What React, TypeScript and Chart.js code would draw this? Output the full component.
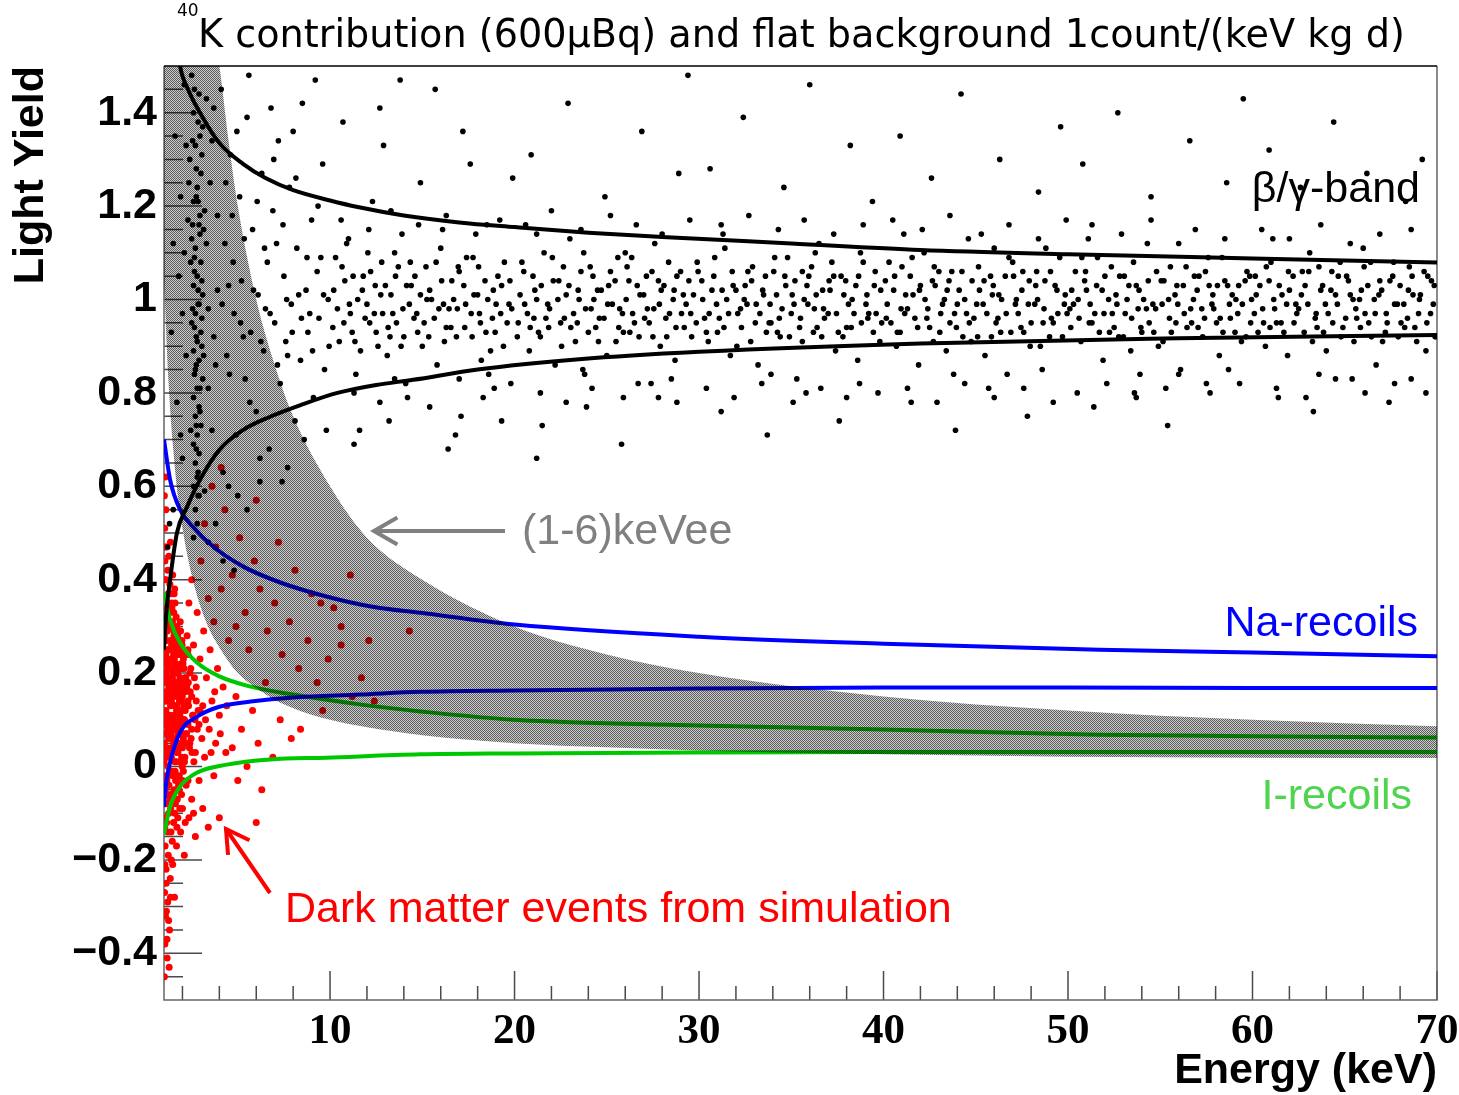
import { useEffect, useRef } from "react";
import { Chart, registerables } from "chart.js";

Chart.register(...registerables);

// ---------------- axis definitions ----------------
const X_RANGE = [1, 70];
const Y_RANGE = [-0.5, 1.5];
const X_TICKS = [10, 20, 30, 40, 50, 60, 70];
const X_MINOR = [2, 4, 6, 8, 12, 14, 16, 18, 22, 24, 26, 28, 32, 34, 36, 38, 42, 44, 46, 48, 52, 54, 56, 58, 62, 64, 66, 68];
const Y_TICKS = [-0.4, -0.2, 0, 0.2, 0.4, 0.6, 0.8, 1.0, 1.2, 1.4];
const Y_TICK_LABELS = ["\u22120.4", "\u22120.2", "0", "0.2", "0.4", "0.6", "0.8", "1", "1.2", "1.4"];
const Y_MINOR = [-0.45, -0.35, -0.3, -0.25, -0.15, -0.1, -0.05, 0.05, 0.1, 0.15, 0.25, 0.3, 0.35, 0.45, 0.5, 0.55, 0.65, 0.7, 0.75, 0.85, 0.9, 0.95, 1.05, 1.1, 1.15, 1.25, 1.3, 1.35, 1.45];

// ---------------- (1-6) keVee band ----------------
const BAND_E = [1, 1.25, 1.5, 1.75, 2, 2.5, 3, 3.5, 4, 4.5, 5, 6, 7, 8, 10, 12, 15, 20, 25, 30, 40, 50, 60, 70];
const BAND_UPPER = [1.6, 1.6, 1.6, 1.6, 1.6, 1.6, 1.6, 1.6, 1.5, 1.34, 1.2, 1.0, 0.86, 0.75, 0.6, 0.49, 0.4, 0.3, 0.24, 0.2, 0.15, 0.12, 0.1, 0.086];
const BAND_LOWER = [1.04, 0.82, 0.68, 0.58, 0.51, 0.41, 0.34, 0.29, 0.255, 0.225, 0.2, 0.168, 0.143, 0.125, 0.1, 0.084, 0.067, 0.05, 0.041, 0.034, 0.026, 0.021, 0.019, 0.018];

// ---------------- beta/gamma band curves ----------------
const BG_UP_E = [1.5, 1.87, 2.3, 2.95, 4.0, 5.3, 6.5, 8.0, 10.0, 11.5, 14.0, 17, 20, 24, 28, 35, 42, 50, 60, 70];
const BG_UP_LY = [1.62, 1.5, 1.45, 1.4, 1.335, 1.29, 1.26, 1.234, 1.212, 1.198, 1.18, 1.165, 1.155, 1.143, 1.134, 1.12, 1.106, 1.097, 1.088, 1.079];
const BG_LO_E = [1.0, 1.05, 1.15, 1.33, 1.7, 2.25, 2.95, 4.0, 5.3, 6.75, 8.4, 10.4, 12.5, 14.5, 18, 23.5, 30, 42, 56, 70];
const BG_LO_LY = [0.25, 0.29, 0.34, 0.4, 0.5, 0.556, 0.614, 0.678, 0.721, 0.749, 0.774, 0.8, 0.817, 0.828, 0.85, 0.872, 0.888, 0.906, 0.917, 0.924];

// ---------------- Na recoils ----------------
const NA_UP_E = [1.0, 1.33, 1.87, 2.57, 3.66, 5.3, 7.3, 9.8, 12.3, 14.9, 20, 30, 40, 51.7, 60, 70];
const NA_UP_LY = [0.7, 0.614, 0.55, 0.513, 0.471, 0.428, 0.394, 0.364, 0.342, 0.329, 0.304, 0.278, 0.263, 0.25, 0.244, 0.236];
const NA_LO_E = [1.0, 1.1, 1.33, 1.87, 2.8, 4.0, 5.7, 8.0, 11.6, 14.9, 20, 30, 40, 50, 60, 70];
const NA_LO_LY = [-0.086, -0.04, 0.009, 0.073, 0.107, 0.128, 0.139, 0.148, 0.154, 0.16, 0.163, 0.167, 0.169, 0.169, 0.168, 0.168];

// ---------------- I recoils ----------------
const I_UP_E = [1.0, 1.33, 1.87, 2.8, 4.0, 5.7, 8.0, 11.6, 14.9, 20, 30, 40, 51.7, 60, 70];
const I_UP_LY = [0.372, 0.314, 0.265, 0.222, 0.193, 0.171, 0.154, 0.133, 0.118, 0.1, 0.088, 0.079, 0.068, 0.065, 0.062];
const I_LO_E = [1.0, 1.33, 1.87, 2.8, 4.4, 6.75, 9.8, 14.9, 20, 30, 40, 50, 60, 70];
const I_LO_LY = [-0.145, -0.086, -0.043, -0.013, 0.004, 0.015, 0.019, 0.026, 0.028, 0.03, 0.031, 0.031, 0.031, 0.031];

// ---------------- measured events (black) ----------------
const K40_EVENTS: [number, number][] = [
  [10.2,1.02],[10.5,0.91],[10.9,1.12],[11.1,0.97],[11.4,0.84],[11.8,1.05],[12.0,0.99],[12.3,1.21],[12.5,0.93],[12.8,1.08],[13.1,0.88],[13.3,1.01],[13.6,0.95],[13.9,1.14],[14.2,0.79],[14.4,1.03],[14.7,0.97],[15.0,0.90],[15.2,1.07],[15.5,1.00],[15.8,0.86],[16.0,1.11],[16.3,0.94],[16.6,1.04],[16.9,0.98],[17.1,0.75],[17.4,1.09],[17.7,0.92],[18.0,1.01],[18.2,0.87],[18.5,1.16],[18.8,0.96],[19.1,1.05],[19.4,0.90],[19.7,0.99],[19.9,1.26],
  [10.7,1.38],[12.9,1.33],[15.7,1.45],[17.6,1.29],[11.6,0.72],[16.4,0.68],[18.9,0.81],[13.8,1.47],[14.9,1.25],[19.3,0.74],
  [20.2,0.95],[20.5,1.06],[20.8,0.89],[21.1,1.02],[21.3,0.93],[21.6,1.10],[21.9,0.98],[22.2,0.86],[22.4,1.04],[22.7,0.96],[23.0,1.13],[23.3,0.91],[23.5,1.00],[23.8,0.84],[24.1,1.07],[24.4,0.94],[24.7,1.02],[25.0,0.88],[25.3,0.99],[25.6,1.09],[25.9,0.93],[26.2,1.04],[26.4,0.97],[26.7,0.82],[27.0,1.01],[27.3,0.95],[27.6,1.12],[27.9,0.90],[28.1,1.03],[28.4,0.97],[28.7,0.87],[29.0,1.06],[29.3,0.99],[29.6,0.92],[29.9,1.08],
  [20.9,1.31],[22.9,1.42],[24.9,1.22],[26.9,1.36],[28.9,1.27],[21.5,0.73],[23.9,0.77],[25.8,0.69],[27.8,0.79],[29.4,1.48],
  [30.2,1.00],[30.5,0.91],[30.8,1.05],[31.1,0.96],[31.4,1.11],[31.7,0.88],[32.0,1.02],[32.3,0.94],[32.6,0.99],[32.9,1.07],[33.2,0.86],[33.5,1.01],[33.8,0.95],[34.1,1.09],[34.4,0.92],[34.7,1.03],[35.0,0.97],[35.3,0.83],[35.6,1.06],[35.9,0.99],[36.2,0.93],[36.5,1.12],[36.8,0.96],[37.1,1.02],[37.4,0.89],[37.7,1.05],[38.0,0.94],[38.3,1.00],[38.6,0.87],[38.9,1.08],[39.2,0.97],[39.5,1.03],[39.8,0.91],
  [30.6,1.28],[32.4,1.39],[34.6,1.24],[36.0,1.46],[38.2,1.33],[31.2,0.76],[33.7,0.71],[35.8,0.80],[37.6,0.74],[39.4,1.21],
  [40.1,1.04],[40.4,0.95],[40.7,0.90],[41.0,1.07],[41.3,0.98],[41.6,1.01],[41.9,0.86],[42.2,1.10],[42.5,0.94],[42.8,1.03],[43.1,0.97],[43.4,0.89],[43.7,1.06],[44.0,0.99],[44.3,0.92],[44.6,1.13],[44.9,0.96],[45.2,1.02],[45.5,0.88],[45.8,1.05],[46.1,0.95],[46.4,1.00],[46.7,0.84],[47.0,1.08],[47.3,0.97],[47.6,0.93],[47.9,1.04],[48.2,0.99],[48.5,0.90],[48.8,1.11],[49.1,0.96],[49.4,1.02],[49.7,0.92],
  [40.9,1.35],[42.6,1.26],[44.2,1.44],[46.3,1.30],[48.4,1.23],[41.5,0.78],[43.9,0.72],[45.7,0.81],[47.8,0.75],[49.6,1.37],
  [50.1,0.98],[50.4,1.06],[50.7,0.91],[51.0,1.02],[51.3,0.95],[51.6,1.09],[51.9,0.87],[52.2,1.00],[52.5,0.94],[52.8,1.05],[53.1,0.97],[53.4,0.89],[53.7,1.03],[54.0,0.93],[54.3,1.12],[54.6,0.99],[54.9,0.90],[55.2,1.04],[55.5,0.96],[55.8,1.01],[56.1,0.85],[56.4,1.07],[56.7,0.95],[57.0,1.02],[57.3,0.92],[57.6,1.09],[57.9,0.98],[58.2,0.88],[58.5,1.04],[58.8,0.96],[59.1,1.00],[59.4,0.91],[59.7,1.06],
  [50.8,1.29],[52.7,1.40],[54.5,1.22],[56.6,1.34],[58.6,1.25],[51.4,0.77],[53.6,0.80],[55.4,0.73],[57.5,0.82],[59.5,1.43],
  [60.1,0.97],[60.4,1.03],[60.7,0.90],[61.0,1.08],[61.3,0.95],[61.6,1.01],[61.9,0.88],[62.2,1.05],[62.5,0.98],[62.8,0.93],[63.1,1.10],[63.4,0.96],[63.7,1.02],[64.0,0.89],[64.3,1.06],[64.6,0.99],[64.9,0.94],[65.2,1.04],[65.5,0.91],[65.8,1.00],[66.1,0.97],[66.4,1.08],[66.7,0.86],[67.0,1.02],[67.3,0.95],[67.6,1.05],[67.9,0.92],[68.2,0.99],[68.5,1.07],[68.8,0.94],[69.1,1.01],[69.4,0.89],[69.7,1.04],
  [60.9,1.32],[62.6,1.24],[64.4,1.38],[66.2,1.27],[68.3,1.21],[61.4,0.79],[63.3,0.76],[65.4,0.83],[67.4,0.78],[69.2,1.30],
  [10.4,0.98],[10.8,1.04],[11.2,0.93],[11.5,1.00],[11.9,0.96],[12.2,1.06],[12.6,0.90],[13.0,1.03],[13.4,0.97],[13.7,1.07],[14.0,0.92],[14.3,0.99],[14.6,1.05],[15.1,0.95],[15.4,1.02],[15.9,0.98],[16.2,0.91],[16.7,1.00],[17.0,1.06],[17.3,0.94],[17.8,1.01],[18.1,0.97],[18.4,1.04],[18.7,0.89],[19.0,0.99],[19.3,1.03],[19.6,0.95],
  [20.3,1.01],[20.7,0.97],[21.0,1.05],[21.4,0.92],[21.8,0.99],[22.1,1.04],[22.5,0.95],[22.8,1.01],[23.2,0.97],[23.6,1.06],[24.0,0.93],[24.3,1.00],[24.6,0.96],[25.1,1.03],[25.5,0.91],[25.7,0.98],[26.1,1.07],[26.5,0.95],[26.8,1.01],[27.2,0.98],[27.5,0.92],[27.8,1.04],[28.2,0.96],[28.6,1.00],[28.8,1.05],[29.2,0.94],[29.7,1.01],
  [30.3,0.96],[30.7,1.02],[31.0,0.93],[31.5,1.00],[31.8,1.06],[32.1,0.97],[32.5,1.03],[32.8,0.91],[33.1,0.99],[33.6,1.05],[33.9,0.95],[34.2,1.01],[34.5,0.98],[34.9,0.92],[35.2,1.04],[35.5,0.96],[35.7,1.00],[36.1,1.07],[36.4,0.94],[36.7,1.02],[37.0,0.97],[37.3,1.05],[37.8,0.92],[38.1,0.99],[38.5,1.03],[38.8,0.95],[39.1,1.01],[39.6,0.97],
  [40.2,0.99],[40.6,1.05],[40.9,0.93],[41.2,1.01],[41.7,0.96],[42.0,1.03],[42.4,0.98],[42.7,0.91],[43.0,1.06],[43.3,1.00],[43.6,0.95],[44.1,1.02],[44.5,0.97],[44.8,1.04],[45.1,0.92],[45.4,0.99],[45.9,1.01],[46.2,0.96],[46.6,1.05],[46.9,0.93],[47.2,1.00],[47.5,1.02],[48.0,0.95],[48.3,1.06],[48.7,0.98],[49.0,0.92],[49.3,1.03],[49.8,0.99],
  [50.2,1.02],[50.6,0.96],[50.9,1.04],[51.2,0.99],[51.7,0.93],[52.0,1.05],[52.4,0.97],[52.6,1.01],[53.0,0.92],[53.3,1.03],[53.8,0.98],[54.1,1.00],[54.4,0.95],[54.8,1.06],[55.1,0.99],[55.6,0.93],[55.9,1.03],[56.3,0.97],[56.8,1.00],[57.1,1.05],[57.4,0.96],[57.8,0.99],[58.1,1.03],[58.4,0.93],[58.9,1.01],[59.2,0.97],[59.6,1.04],[59.9,0.95],
  [60.2,1.01],[60.6,0.95],[60.9,1.04],[61.2,0.98],[61.7,0.93],[62.0,1.02],[62.4,0.97],[62.7,1.06],[63.0,0.99],[63.5,0.94],[63.8,1.03],[64.1,0.97],[64.5,1.01],[64.8,0.92],[65.1,1.05],[65.6,0.98],[65.9,1.02],[66.3,0.95],[66.6,1.00],[66.9,1.04],[67.2,0.93],[67.7,0.99],[68.0,1.03],[68.4,0.96],[68.7,1.01],[69.0,0.97],[69.5,1.05],[69.8,0.99],
  [10.15,0.94],[10.65,1.07],[11.05,0.99],[11.35,0.91],[11.75,1.02],[12.15,0.95],[12.45,1.03],[12.85,0.97],[13.25,0.92],[13.55,1.05],[13.95,0.98],[14.35,1.08],[14.75,0.93],[15.25,1.00],[15.65,0.96],[16.05,1.04],[16.45,0.98],[16.85,0.92],[17.25,1.03],[17.65,0.97],[18.05,1.07],[18.45,0.93],[18.85,1.02],[19.25,0.97],[19.75,1.04],
  [20.15,0.92],[20.55,0.99],[21.05,0.96],[21.45,1.03],[21.85,0.94],[22.35,1.00],[22.65,1.07],[23.05,0.94],[23.45,1.02],[23.85,0.98],[24.25,1.05],[24.55,0.91],[25.05,0.99],[25.45,1.04],[25.85,0.97],[26.25,0.93],[26.65,1.03],[27.05,0.96],[27.45,1.06],[27.85,0.99],[28.25,0.92],[28.65,1.02],[29.05,0.97],[29.45,1.04],[29.85,0.95],
  [30.15,1.04],[30.55,0.97],[30.95,0.99],[31.35,0.94],[31.85,1.03],[32.25,0.98],[32.65,1.06],[33.05,0.95],[33.45,1.02],[33.85,0.99],[34.25,0.93],[34.65,1.05],[35.05,1.01],[35.45,0.94],[35.85,1.03],[36.25,0.98],[36.65,0.92],[37.05,1.04],[37.45,0.97],[37.85,1.01],[38.25,0.94],[38.65,1.05],[39.05,0.99],[39.45,0.93],[39.85,1.02],
  [40.15,0.96],[40.55,1.02],[40.95,0.98],[41.45,1.05],[41.85,0.94],[42.25,1.00],[42.65,1.04],[43.05,0.93],[43.45,1.02],[43.85,0.97],[44.25,1.06],[44.65,0.95],[45.05,0.99],[45.45,1.04],[45.85,0.92],[46.25,1.01],[46.65,0.97],[47.05,1.05],[47.45,0.94],[47.85,0.99],[48.25,1.03],[48.65,0.95],[49.05,1.06],[49.45,0.97],[49.85,1.01],
  [50.15,0.94],[50.55,1.00],[50.95,1.06],[51.45,0.97],[51.85,1.02],[52.25,0.93],[52.65,0.99],[53.05,1.05],[53.45,0.96],[53.85,1.02],[54.25,0.98],[54.65,0.93],[55.05,1.04],[55.45,1.00],[55.85,0.95],[56.25,1.03],[56.65,0.98],[57.05,0.94],[57.45,1.06],[57.85,1.01],[58.25,0.96],[58.65,1.03],[59.05,0.93],[59.45,0.99],[59.85,1.05],
  [60.15,1.05],[60.55,0.98],[60.95,0.94],[61.45,1.03],[61.85,0.99],[62.25,0.95],[62.65,1.01],[63.05,1.06],[63.45,0.97],[63.85,0.93],[64.25,1.02],[64.65,1.05],[65.05,0.96],[65.45,1.00],[65.85,0.94],[66.25,1.03],[66.65,0.97],[67.05,0.91],[67.45,1.04],[67.85,0.99],[68.25,0.94],[68.65,1.05],[69.05,1.00],[69.45,0.95],[69.85,1.03],
  [10.3,1.09],[10.75,0.95],[11.25,1.05],[11.65,0.89],[12.05,1.1],[12.4,0.97],[12.75,1.01],[13.15,0.94],[13.5,1.1],[13.85,0.9],[14.15,1.03],[14.55,0.96],[14.9,1.01],[15.35,0.92],[15.75,1.08],[16.15,0.99],[16.55,0.94],[16.95,1.07],[17.35,0.99],[17.75,1.09],[18.15,0.95],[18.55,1.0],[18.95,0.93],[19.45,1.08],[19.85,0.98],
  [20.4,1.08],[20.85,0.94],[21.2,1.0],[21.7,0.96],[22.05,1.09],[22.55,0.9],[22.95,1.03],[23.4,0.95],[23.75,1.1],[24.15,0.98],[24.5,1.02],[24.85,0.96],[25.2,1.06],[25.65,0.94],[26.05,1.0],[26.35,1.09],[26.75,0.92],[27.15,1.05],[27.55,0.98],[27.95,1.02],[28.35,1.08],[28.75,0.94],[29.15,1.01],[29.55,0.97],[29.95,1.06],
  [30.4,0.93],[30.85,1.09],[31.25,1.02],[31.6,0.97],[32.05,0.9],[32.45,1.0],[32.85,1.04],[33.3,0.97],[33.65,0.93],[34.05,1.06],[34.35,0.96],[34.8,1.09],[35.15,0.99],[35.6,0.91],[35.95,1.05],[36.35,1.01],[36.75,0.98],[37.2,1.08],[37.55,0.93],[37.95,1.04],[38.4,0.97],[38.75,1.1],[39.15,0.96],[39.55,1.06],[39.9,0.95],
  [40.3,1.08],[40.75,0.93],[41.15,0.97],[41.55,1.09],[41.95,1.02],[42.35,0.96],[42.75,1.07],[43.2,0.99],[43.55,1.04],[43.95,0.94],[44.4,1.0],[44.75,0.91],[45.15,1.07],[45.6,0.97],[45.95,1.03],[46.35,0.93],[46.8,1.09],[47.15,0.99],[47.55,1.06],[47.95,0.9],[48.35,1.0],[48.75,1.04],[49.2,0.95],[49.55,1.09],[49.95,0.97],
  [50.3,0.99],[50.75,1.09],[51.15,0.95],[51.55,1.03],[51.95,0.97],[52.35,1.07],[52.75,0.92],[53.2,1.0],[53.55,1.08],[53.95,0.94],[54.35,1.04],[54.75,0.98],[55.15,0.91],[55.55,1.07],[55.95,0.99],[56.45,0.94],[56.85,1.05],[57.25,0.98],[57.65,1.03],[58.05,0.95],[58.35,1.09],[58.75,0.99],[59.25,1.03],[59.65,0.92],[59.95,1.0],
  [60.3,0.93],[60.75,1.07],[61.15,1.0],[61.55,0.95],[61.95,1.06],[62.35,0.99],[62.85,1.03],[63.25,0.91],[63.6,1.07],[63.95,0.99],[64.35,0.95],[64.75,1.08],[65.3,1.01],[65.65,0.96],[66.05,1.07],[66.45,0.92],[66.85,1.01],[67.25,0.97],[67.65,1.08],[68.05,0.95],[68.45,1.02],[68.9,0.91],[69.3,1.06],[69.65,0.97],[69.9,0.92],
  [11.0,1.13],[13.5,0.83],[16.1,1.15],[18.6,0.84],[21.2,1.14],[23.7,0.85],[26.0,1.10],[28.5,0.83],[31.3,1.14],[33.9,0.84],[36.3,1.10],[38.7,0.82],[41.1,1.14],[43.8,0.84],[46.0,1.11],[48.6,0.85],[51.1,1.13],[53.9,0.84],[56.0,1.12],[58.7,0.85],[61.1,1.13],[63.6,0.84],[66.0,1.11],[68.6,0.83],
  [10.6,1.17],[11.3,0.8],[12.1,1.15],[12.7,0.78],[13.3,1.19],[14.1,0.82],[14.8,1.16],[15.4,0.77],[16.3,1.18],[17.0,0.83],[17.9,1.14],[18.3,0.79],[19.2,1.17],[19.8,0.82],
  [20.6,1.16],[21.4,0.8],[22.0,1.19],[22.8,0.78],[23.6,1.15],[24.2,0.81],[25.2,1.18],[25.9,0.79],[26.6,1.16],[27.4,0.82],[28.0,1.14],[28.8,0.78],[29.5,1.17],
  [30.4,0.81],[31.2,1.16],[31.9,0.79],[32.7,1.18],[33.4,0.82],[34.3,1.15],[35.1,0.78],[35.7,1.17],[36.6,0.81],[37.3,1.14],[38.0,0.79],[38.9,1.16],[39.7,0.8],
  [40.5,1.17],[41.3,0.81],[42.1,1.15],[42.9,0.78],[43.6,1.18],[44.4,0.82],[45.3,1.14],[46.0,0.79],[46.8,1.16],[47.6,0.81],[48.4,1.13],[49.2,0.78],[49.9,1.17],
  [50.5,0.8],[51.3,1.16],[52.1,0.82],[52.9,1.14],[53.7,0.79],[54.5,1.17],[55.3,0.81],[56.0,0.84],[56.9,1.15],[57.7,0.8],[58.5,1.13],[59.3,0.82],
  [60.5,1.15],[61.3,0.81],[62.0,1.13],[62.9,0.79],[63.7,1.16],[64.5,0.83],[65.3,1.12],[66.1,0.8],[66.9,1.14],[67.7,0.82],[68.6,1.15],[69.4,0.8],
  [4.1,1.45],[4.3,1.12],[4.4,0.88],[4.6,1.31],[4.8,0.97],[4.9,0.71],[5.1,1.22],[5.2,1.04],[5.4,0.83],[5.5,1.39],[5.7,0.93],[5.8,1.15],[6.0,0.76],[6.1,1.01],[6.3,1.27],[6.4,0.89],[6.6,1.08],[6.7,0.68],[6.9,1.19],[7.0,0.95],[7.2,1.34],[7.3,0.82],[7.5,1.05],[7.6,0.91],[7.8,1.24],[7.9,0.99],[8.1,0.74],[8.2,1.11],[8.4,0.87],[8.5,1.42],[8.7,1.02],[8.8,0.93],[9.0,1.17],[9.1,0.79],[9.3,1.06],[9.4,0.96],[9.6,1.29],[9.7,0.85],[9.9,1.00],
  [4.2,0.63],[4.7,1.18],[5.0,0.58],[5.6,1.48],[6.2,0.66],[6.8,1.41],[7.4,0.61],[8.0,1.36],[8.6,0.70],[9.2,1.47],[9.8,0.72],[4.5,1.03],[5.3,0.92],[6.5,0.98],[7.1,1.12],[7.7,0.88],[8.3,1.01],[8.9,0.97],[9.5,1.09],
  [4.15,0.99],[4.35,1.25],[4.55,0.84],[4.75,1.08],[4.95,1.36],[5.15,0.95],[5.35,1.13],[5.65,0.78],[5.85,1.02],[6.05,1.21],[6.25,0.91],[6.45,1.11],[6.75,0.97],[6.95,1.3],[7.15,0.86],[7.45,1.16],[7.65,1.0],[7.95,0.93],[8.15,1.26],[8.45,0.96],[8.75,1.09],[9.05,0.89],[9.35,1.2],[9.65,1.01],[9.95,0.9],
  [2.5,1.48],[2.9,1.44],[2.6,1.40],[3.1,1.37],[2.7,1.33],[2.4,1.30],[3.0,1.27],[2.8,1.24],[2.6,1.21],[3.2,1.19],[2.9,1.16],[2.5,1.13],[2.7,1.11],[3.0,1.08],[2.8,1.05],[2.6,1.03],[3.1,1.01],[2.9,0.99],[2.7,0.97],[2.5,0.95],[3.0,0.93],[2.8,0.91],[2.6,0.89],[2.9,0.87],[2.7,0.85],[3.1,0.83],[2.8,0.81],[2.6,0.79],[2.9,0.77],[2.7,0.75],[3.0,0.73],[2.8,0.71],[2.6,0.69],[2.9,0.67],[2.7,0.65],[2.8,0.62],[2.6,0.60],[2.9,0.58],[2.7,0.55],[2.8,0.52],[2.6,0.49],
  [2.65,1.45],[2.85,1.38],[2.55,1.34],[3.05,1.31],[2.75,1.22],[2.95,1.14],[2.65,1.06],[2.85,1.02],[2.55,0.98],[3.05,0.96],[2.75,0.92],[2.65,0.84],[2.95,0.76],[2.75,0.68],[2.85,0.58],[2.45,1.08],[3.15,0.88],[2.45,0.72],[3.15,1.15],[2.35,1.25],
  [1.6,1.35],[1.9,1.22],[2.1,1.46],[3.5,1.25],[3.7,1.41],[3.4,0.98],[2.2,0.88],[1.8,1.05],[3.6,0.72],[2.0,0.66],[3.3,1.12],[3.8,0.86],[1.4,0.93],[2.3,1.17],[3.9,1.02],[1.7,0.78],[3.2,0.59],[2.2,1.33],[1.5,1.12],[3.6,1.34],[2.0,0.97],[3.4,0.81],[1.3,0.52],[1.2,0.47],[1.5,0.55],[3.3,1.43],[3.9,1.18],[1.9,0.71],[3.7,0.92],[2.1,1.10],
  [2.75,1.28],[2.95,1.18],[2.65,1.09],[2.85,0.99],[3.05,0.90],[2.75,0.86],[2.55,1.16],[2.95,1.35],[2.85,1.21],[2.65,0.94],[3.05,1.04],[2.75,0.73],[2.85,0.63],[2.95,0.81],
  [3.4,0.48],[4.2,0.44],[4.8,0.42],[3.8,0.52],[5.5,0.55],[4.5,0.60],[6.2,0.61],[7.7,0.64],[11.3,0.69],[13.2,0.74],[16.8,0.71],[21.2,0.66],[12.7,1.41],[17.2,1.36]
];

// ---------------- simulated dark matter events (red) ----------------
const DM_EVENTS: [number, number][] = [
  [1.02,0.05],[1.05,0.18],[1.08,0.27],[1.03,-0.03],[1.10,0.12],[1.12,0.22],[1.06,0.31],[1.15,0.02],[1.18,0.15],[1.14,0.29],[1.21,0.08],[1.24,0.19],[1.20,-0.04],[1.27,0.25],[1.30,0.11],[1.26,0.03],[1.33,0.17],[1.36,0.30],[1.32,-0.01],[1.39,0.07],[1.42,0.21],[1.38,0.14],[1.45,0.26],[1.48,0.04],[1.44,0.10],[1.51,0.18],[1.54,0.28],[1.50,-0.02],[1.57,0.13],[1.60,0.06],[1.56,0.23],[1.63,0.16],[1.66,0.01],[1.62,0.27],[1.69,0.09],[1.72,0.20],[1.68,0.12],[1.75,0.03],[1.78,0.17],[1.74,0.24],[1.81,0.08],[1.84,0.14],[1.80,0.29],[1.87,0.05],[1.90,0.19],[1.86,0.11],[1.93,0.22],[1.96,0.02],[1.92,0.15],[1.99,0.09],[2.02,0.18],[1.98,0.26],[2.05,0.06],[2.08,0.13],[2.04,0.21],[2.11,0.01],[2.14,0.16],[2.10,0.10],[2.17,0.24],[2.20,0.07],
  [1.04,0.09],[1.07,0.14],[1.09,0.03],[1.11,0.20],[1.13,0.07],[1.16,0.25],[1.19,0.10],[1.22,0.14],[1.25,0.06],[1.28,0.21],[1.31,0.16],[1.34,0.08],[1.37,0.23],[1.40,0.02],[1.43,0.15],[1.46,0.19],[1.49,0.09],[1.52,0.24],[1.55,0.05],[1.58,0.18],[1.61,0.11],[1.64,0.22],[1.67,0.04],[1.70,0.15],[1.73,0.08],[1.76,0.21],[1.79,0.12],[1.82,0.18],[1.85,0.01],[1.88,0.14],[1.91,0.07],[1.94,0.17],[1.97,0.12],[2.00,0.04],[2.03,0.22],[2.06,0.10],[2.09,0.17],[2.12,0.05],[2.15,0.12],[2.18,0.19],
  [1.03,-0.08],[1.19,-0.06],[1.36,-0.09],[1.55,-0.05],[1.72,-0.07],[1.95,-0.06],
  [1.1,-0.02],[1.27,-0.04],[1.44,-0.01],[1.63,-0.03],[1.83,-0.02],[2.05,-0.01],[2.3,-0.03],
  [1.01,0.01],[1.17,0.04],[1.35,0.02],[1.53,0.05],[1.71,0.03],[1.9,0.04],[2.13,0.02],[2.38,0.04],[2.62,0.01],
  [1.08,0.07],[1.23,0.09],[1.41,0.06],[1.59,0.08],[1.77,0.07],[1.96,0.09],[2.22,0.07],[2.47,0.06],[2.8,0.08],
  [1.02,0.12],[1.19,0.11],[1.35,0.13],[1.52,0.11],[1.7,0.13],[1.88,0.12],[2.1,0.1],[2.33,0.13],[2.58,0.11],[2.95,0.12],
  [1.09,0.16],[1.26,0.17],[1.43,0.15],[1.61,0.17],[1.79,0.16],[1.99,0.15],[2.23,0.17],[2.5,0.15],
  [1.03,0.2],[1.2,0.21],[1.37,0.19],[1.55,0.21],[1.73,0.2],[1.92,0.21],[2.14,0.19],[2.4,0.2],
  [1.1,0.24],[1.27,0.25],[1.45,0.23],[1.63,0.25],[1.84,0.24],[2.05,0.23],[2.3,0.25],
  [1.02,0.28],[1.18,0.29],[1.36,0.27],[1.54,0.29],[1.74,0.28],[1.97,0.27],
  [1.1,0.32],[1.28,0.33],[1.46,0.31],[1.66,0.32],[1.88,0.31],
  [1.04,0.36],[1.22,0.35],[1.4,0.37],[1.6,0.35],
  [1.06,-0.05],[1.23,-0.02],[1.4,-0.06],[1.6,-0.01],[1.79,-0.04],[2.0,-0.03],
  [1.05,0.03],[1.22,0.0],[1.4,0.04],[1.58,0.01],[1.77,0.05],[1.99,0.0],[2.25,0.05],[2.52,0.03],
  [1.14,0.1],[1.31,0.07],[1.48,0.1],[1.67,0.09],[1.84,0.1],[2.03,0.07],[2.3,0.09],[2.68,0.1],
  [1.06,0.14],[1.23,0.15],[1.4,0.14],[1.58,0.13],[1.76,0.15],[1.95,0.14],[2.18,0.13],[2.42,0.16],[2.75,0.14],
  [1.14,0.19],[1.31,0.18],[1.49,0.2],[1.67,0.18],[1.86,0.19],[2.08,0.21],[2.32,0.18],
  [1.06,0.23],[1.24,0.22],[1.41,0.26],[1.59,0.22],[1.79,0.26],[2.0,0.25],
  [1.14,0.27],[1.31,0.3],[1.5,0.26],[1.69,0.3],[1.9,0.29],
  [1.07,0.34],[1.25,0.31],[1.43,0.34],[1.55,0.37],
  [1.02,0.58],[1.05,0.44],[1.08,0.36],[1.04,0.51],[1.11,0.40],[1.14,0.47],[1.07,0.62],[1.17,0.34],[1.20,0.42],[1.10,0.55],[1.23,0.37],[1.26,0.45],[1.29,0.33],[1.32,0.39],[1.35,0.48],[1.41,0.35],[1.47,0.41],[1.53,0.33],[1.03,0.40],[1.12,0.31],[1.06,0.47],[1.58,0.38],
  [2.25,0.28],[2.3,0.14],[2.35,0.35],[2.4,0.05],[2.45,0.21],[2.5,0.40],[2.55,0.11],[2.6,0.26],[2.7,0.03],[2.75,0.17],[2.8,0.33],[2.9,0.09],[2.95,0.23],[3.0,0.44],[3.1,0.13],[3.15,0.29],[3.2,0.02],[3.3,0.19],[3.4,0.36],[3.45,0.08],[3.5,0.25],[3.6,0.14],[3.7,0.31],[3.8,0.05],[3.9,0.21],[4.0,0.11],[4.1,0.38],[4.2,0.17],[4.35,0.03],[4.5,0.27],[2.3,0.24],[2.5,0.08],[2.65,0.19],[2.85,0.12],[3.05,0.06],[3.25,0.10],[3.55,0.03],[3.75,0.16],[4.05,0.07],[4.4,0.13],
  [4.7,0.04],[4.9,0.15],[5.2,0.08],[5.5,0.00],[5.8,0.12],[6.1,0.05],[6.5,0.18],[6.9,0.02],[7.3,0.10],[7.9,0.06],[8.4,0.08],[5.0,-0.03],[6.3,-0.05],
  [3.2,0.52],[3.8,0.47],[4.3,0.55],[4.7,0.41],[5.1,0.49],[5.4,0.33],[5.9,0.44],[6.2,0.38],[6.6,0.29],[7.0,0.35],[7.4,0.24],[7.8,0.31],[8.3,0.21],[8.8,0.27],[9.3,0.18],[9.9,0.23],[10.6,0.26],[11.2,0.15],[11.7,0.19],[12.4,0.14],[6.0,0.57],[7.2,0.48],[8.1,0.42],[9.0,0.37],[10.2,0.34],[5.6,0.25],[4.9,0.30],[3.6,0.60],[4.1,0.64],[9.6,0.12],[14.3,0.29],[12.1,0.27],[10.6,0.30],[11.1,0.41],[9.5,0.35],
  [1.02,-0.45],[1.05,-0.38],[1.08,-0.32],[1.03,-0.27],[1.11,-0.22],[1.06,-0.17],[1.14,-0.12],[1.09,-0.08],[1.17,-0.41],[1.20,-0.29],[1.23,-0.19],[1.26,-0.10],[1.30,-0.35],[1.34,-0.24],[1.38,-0.14],[1.42,-0.06],[1.47,-0.21],[1.52,-0.12],[1.57,-0.28],[1.62,-0.08],[1.68,-0.17],[1.75,-0.11],[1.82,-0.05],[1.9,-0.14],[2.0,-0.09],[2.1,-0.19],[2.2,-0.04],[2.35,-0.11],[2.5,-0.07],[2.7,-0.15],[2.9,-0.03],[3.1,-0.09],[3.4,-0.13],[4.0,-0.11],[3.7,-0.02],[6.0,-0.12],[1.13,-0.31],[1.28,-0.43],[1.04,-0.13],[1.15,-0.03],
  [1.08,-0.11],[1.21,-0.14],[1.33,-0.07],[1.45,-0.16],[1.58,-0.1],[1.7,-0.13],[1.86,-0.09],[2.15,-0.12],[2.6,-0.1],[1.12,-0.25],[1.25,-0.33],[1.4,-0.2],[1.05,-0.21],[1.16,-0.37],[1.35,-0.28]
];

const toXY = (xs: number[], ys: number[]) => xs.map((x, i) => ({ x, y: ys[i] }));
const pairs = (arr: [number, number][]) => arr.map(([x, y]) => ({ x, y }));

const SANS = '"Liberation Sans", Arial, Helvetica, sans-serif';
const SERIF = '"Liberation Serif", "Times New Roman", serif';

function drawArrow(ctx: CanvasRenderingContext2D, x1: number, y1: number, x2: number, y2: number, head: number, color: string, width: number) {
  const ang = Math.atan2(y2 - y1, x2 - x1);
  ctx.save();
  ctx.strokeStyle = color;
  ctx.lineWidth = width;
  ctx.lineCap = "butt";
  ctx.beginPath();
  ctx.moveTo(x1, y1);
  ctx.lineTo(x2, y2);
  ctx.stroke();
  ctx.beginPath();
  const a = Math.PI / 6;
  ctx.moveTo(x2 - head * Math.cos(ang - a), y2 - head * Math.sin(ang - a));
  ctx.lineTo(x2, y2);
  ctx.lineTo(x2 - head * Math.cos(ang + a), y2 - head * Math.sin(ang + a));
  ctx.stroke();
  ctx.restore();
}

const rootFrame = {
  id: "rootFrame",
  beforeDatasetsDraw(chart: any) {
    const { ctx, chartArea, scales } = chart;
    const { left, right, top, bottom } = chartArea;
    const x = scales.x, y = scales.y;
    ctx.save();
    ctx.strokeStyle = "#4a4a4a";
    ctx.lineWidth = 1.5;
    ctx.beginPath();
    for (const v of X_TICKS) { const p = x.getPixelForValue(v); ctx.moveTo(p, bottom); ctx.lineTo(p, bottom - 29); }
    for (const v of X_MINOR) { const p = x.getPixelForValue(v); ctx.moveTo(p, bottom); ctx.lineTo(p, bottom - 14); }
    for (const v of Y_TICKS) { const p = y.getPixelForValue(v); ctx.moveTo(left, p); ctx.lineTo(left + 38, p); }
    for (const v of Y_MINOR) { const p = y.getPixelForValue(v); ctx.moveTo(left, p); ctx.lineTo(left + 19, p); }
    ctx.stroke();
    ctx.strokeStyle = "#666";
    ctx.beginPath();
    ctx.moveTo(left, top); ctx.lineTo(left, bottom); ctx.lineTo(right, bottom); ctx.lineTo(right, top);
    ctx.stroke();
    ctx.strokeStyle = "#000";
    ctx.beginPath();
    ctx.moveTo(left, top); ctx.lineTo(right, top);
    ctx.stroke();
    ctx.restore();
  },
  afterDraw(chart: any) {
    const ctx: CanvasRenderingContext2D = chart.ctx;
    ctx.save();
    ctx.textBaseline = "alphabetic";
    ctx.textAlign = "left";
    ctx.fillStyle = "#000";
    ctx.font = `17px "DejaVu Sans", ${SANS}`;
    ctx.fillText("40", 177, 16);
    ctx.font = `38.2px "DejaVu Sans", ${SANS}`;
    ctx.fillText("K contribution (600\u00b5Bq) and flat background 1count/(keV kg d)", 198, 47);

    ctx.font = `43px ${SANS}`;
    ctx.textAlign = "right";
    ctx.fillStyle = "#000";
    ctx.fillText("\u03b2/\u03b3-band", 1420, 202);
    ctx.fillStyle = "#0000ff";
    ctx.fillText("Na-recoils", 1418, 636);
    ctx.fillStyle = "#4fd44f";
    ctx.fillText("I-recoils", 1412, 809);
    ctx.textAlign = "left";
    ctx.fillStyle = "#808080";
    ctx.fillText("(1-6)keVee", 522, 544);
    ctx.fillStyle = "#ff0000";
    ctx.fillText("Dark matter events from simulation", 285, 922);
    ctx.restore();

    drawArrow(ctx, 505, 531, 374, 531, 27, "#808080", 4);
    drawArrow(ctx, 270, 893, 226, 829, 26, "#ff0000", 4);
  },
};

export default function App() {
  const ref = useRef<HTMLCanvasElement | null>(null);
  useEffect(() => {
    document.body.style.margin = "0";
    const canvas = ref.current!;
    const ctx = canvas.getContext("2d")!;
    const tile = document.createElement("canvas");
    tile.width = 2;
    tile.height = 2;
    const tg = tile.getContext("2d")!;
    tg.fillStyle = "rgba(0,0,0,0.64)";
    tg.fillRect(0, 0, 1, 1);
    tg.fillRect(1, 1, 1, 1);
    tg.fillStyle = "rgba(0,0,0,0.2)";
    tg.fillRect(1, 0, 1, 1);
    tg.fillRect(0, 1, 1, 1);
    const hatch = ctx.createPattern(tile, "repeat");

    const curve = (label: string, xs: number[], ys: number[], color: string) => ({
      type: "line" as const,
      label,
      data: toXY(xs, ys),
      borderColor: color,
      borderWidth: 4,
      pointRadius: 0,
      fill: false,
      cubicInterpolationMode: "monotone" as const,
      order: 1,
      clip: 0,
    });

    const chart = new Chart(canvas, {
      type: "scatter",
      data: {
        datasets: [
          {
            type: "line",
            label: "(1-6)keVee upper",
            data: toXY(BAND_E, BAND_UPPER),
            borderColor: "transparent",
            borderWidth: 0,
            pointRadius: 0,
            fill: "+1",
            backgroundColor: hatch as any,
            cubicInterpolationMode: "monotone",
            order: 0,
            clip: 0,
          },
          {
            type: "line",
            label: "(1-6)keVee lower",
            data: toXY(BAND_E, BAND_LOWER),
            borderColor: "transparent",
            borderWidth: 0,
            pointRadius: 0,
            fill: false,
            cubicInterpolationMode: "monotone",
            order: 0,
            clip: 0,
          },
          curve("beta/gamma upper", BG_UP_E, BG_UP_LY, "#000000"),
          curve("beta/gamma lower", BG_LO_E, BG_LO_LY, "#000000"),
          curve("Na upper", NA_UP_E, NA_UP_LY, "#0000ff"),
          curve("Na lower", NA_LO_E, NA_LO_LY, "#0000ff"),
          curve("I upper", I_UP_E, I_UP_LY, "#00c800"),
          curve("I lower", I_LO_E, I_LO_LY, "#00c800"),
          {
            type: "scatter",
            label: "DM simulation",
            data: pairs(DM_EVENTS),
            backgroundColor: "#ff0000",
            borderWidth: 0,
            pointRadius: 3.5,
            order: 3,
            clip: 0,
          },
          {
            type: "scatter",
            label: "events",
            data: pairs(K40_EVENTS),
            backgroundColor: "#000000",
            borderWidth: 0,
            pointRadius: 2.8,
            order: 2,
            clip: 0,
          },
        ] as any,
      },
      options: {
        animation: false,
        responsive: false,
        devicePixelRatio: 1,
        events: [],
        layout: { padding: { top: 66, right: 22, left: 0, bottom: 0 } },
        plugins: { legend: { display: false }, tooltip: { enabled: false }, title: { display: false } },
        scales: {
          x: {
            type: "linear",
            min: X_RANGE[0],
            max: X_RANGE[1],
            bounds: "data",
            grid: { display: false, drawTicks: false },
            border: { display: false },
            afterBuildTicks: (s: any) => { s.ticks = X_TICKS.map((v) => ({ value: v })); },
            afterFit: (s: any) => { s.height = 95; s.paddingLeft = 0; s.paddingRight = 0; },
            ticks: {
              autoSkip: false,
              maxRotation: 0,
              padding: 6,
              color: "#000",
              font: { family: SERIF, size: 43, weight: "bold", lineHeight: 1.2 },
              callback: (v: any) => String(v),
            },
            title: {
              display: true,
              text: "Energy (keV)",
              align: "end",
              color: "#000",
              font: { family: SANS, size: 43, weight: "bold", lineHeight: 1.0 },
              padding: { top: 0, bottom: 2 },
            },
          },
          y: {
            type: "linear",
            min: Y_RANGE[0],
            max: Y_RANGE[1],
            bounds: "data",
            grid: { display: false, drawTicks: false },
            border: { display: false },
            afterBuildTicks: (s: any) => { s.ticks = Y_TICKS.map((v) => ({ value: v })); },
            afterFit: (s: any) => { s.width = 164; s.paddingTop = 0; s.paddingBottom = 0; },
            ticks: {
              autoSkip: false,
              padding: 7,
              color: "#000",
              font: { family: SANS, size: 43, weight: "bold", lineHeight: 1.2 },
              callback: (_v: any, i: number) => Y_TICK_LABELS[i],
            },
            title: {
              display: true,
              text: "Light Yield",
              align: "end",
              color: "#000",
              font: { family: SANS, size: 43, weight: "bold", lineHeight: 1.0 },
              padding: { top: 10, bottom: 0 },
            },
          },
        },
      } as any,
      plugins: [rootFrame],
    });
    return () => chart.destroy();
  }, []);

  return (
    <div>
      <canvas ref={ref} width={1459} height={1095} style={{ display: "block", width: 1459, height: 1095 }} />
    </div>
  );
}
